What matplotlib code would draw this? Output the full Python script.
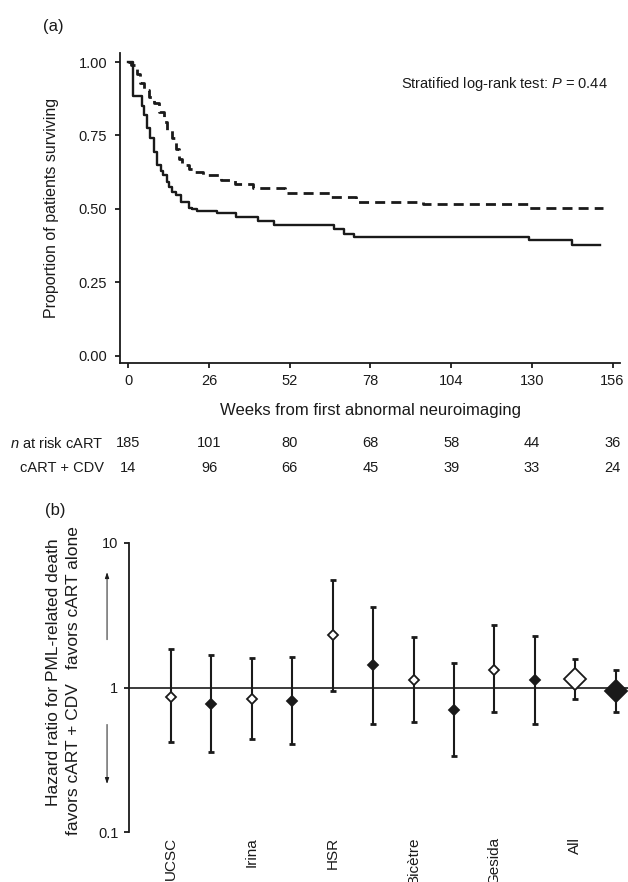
import matplotlib
matplotlib.use('Agg')
import matplotlib.pyplot as plt
from matplotlib.transforms import blended_transform_factory

plt.rcParams['font.family'] = ['Liberation Sans', 'DejaVu Sans']
plt.rcParams['mathtext.fontset'] = 'custom'
plt.rcParams['mathtext.rm'] = 'Liberation Sans'
plt.rcParams['mathtext.it'] = 'Liberation Sans:italic'

# (a) Kaplan-Meier curves
solid_weeks = [0, 1.6, 4.4, 5.0, 6.0, 7.1, 8.2, 9.3, 10.4, 11.1, 12.5, 13.0, 14.1, 15.2,
               16.8, 19.5, 20.6, 22.2, 28.5, 34.6, 41.7, 47.0, 66.3, 69.6, 72.8, 129.0,
               143.0, 152.0]
solid_surv = [1.00, 0.886, 0.85, 0.82, 0.774, 0.74, 0.695, 0.648, 0.63, 0.614, 0.591, 0.575,
              0.557, 0.546, 0.523, 0.503, 0.498, 0.494, 0.486, 0.473, 0.459, 0.446, 0.43,
              0.414, 0.403, 0.394, 0.378, 0.378]
dashed_weeks = [0, 1.0, 2.0, 2.8, 3.9, 5.0, 6.6, 8.2, 9.8, 11.4, 12.5, 14.1, 15.2, 16.2,
                17.3, 19.5, 21.5, 24.0, 30.0, 34.5, 40.0, 50.5, 65.0, 73.5, 95.0, 129.0, 153.0]
dashed_surv = [1.00, 0.99, 0.98, 0.96, 0.93, 0.905, 0.882, 0.86, 0.83, 0.797, 0.768, 0.74,
               0.705, 0.671, 0.648, 0.635, 0.625, 0.614, 0.597, 0.586, 0.571, 0.555, 0.54,
               0.524, 0.515, 0.503, 0.503]
week_ticks = [0, 26, 52, 78, 104, 130, 156]
surv_ticks = [0.0, 0.25, 0.5, 0.75, 1.0]
risk_cart = [185, 101, 80, 68, 58, 44, 36]
risk_cdv = [14, 96, 66, 45, 39, 33, 24]

# (b) hazard ratios with 95% CI
hr = [0.86, 0.766, 0.835, 0.804, 2.30, 1.42, 1.12, 0.704, 1.33, 1.12, 1.136, 0.943]
hr_lo = [0.42, 0.359, 0.437, 0.408, 0.953, 0.561, 0.575, 0.335, 0.675, 0.561, 0.835, 0.68]
hr_hi = [1.85, 1.67, 1.60, 1.63, 5.56, 3.63, 2.24, 1.47, 2.72, 2.29, 1.58, 1.33]
sites = ['UCSC', 'Irina', 'HSR', 'Bicètre', 'Gesida', 'All']

ink = '#1a1a1a'
W, H = 628, 882


def fx(px):
    return px / W


def fy(py):
    return 1 - py / H


fig = plt.figure(figsize=(W / 100, H / 100), dpi=100)

# ---- panel (a)
ax1 = fig.add_axes([fx(120), fy(363), fx(620) - fx(120), fy(53) - fy(363)])
ax1.step(solid_weeks, solid_surv, where='post', color=ink, lw=1.7)
ax1.step(dashed_weeks, dashed_surv, where='post', color=ink, lw=2.0, dashes=(3.6, 2.2))
ax1.set_xlim(-2.7, 158.4)
ax1.set_ylim(-0.025, 1.031)
ax1.set_xticks(week_ticks)
ax1.set_yticks(surv_ticks)
ax1.set_yticklabels(['%.2f' % v for v in surv_ticks])
for s in ['top', 'right']:
    ax1.spines[s].set_visible(False)
for s in ['left', 'bottom']:
    ax1.spines[s].set_linewidth(1.3)
    ax1.spines[s].set_color(ink)
ax1.tick_params(direction='out', length=3.6, width=1.3, color=ink, labelsize=10.5,
                labelcolor=ink)
ax1.tick_params(axis='x', pad=4.5)
ax1.tick_params(axis='y', pad=5.5)
ax1.text(154.5, 0.925, 'Stratified log-rank test: $P$ = 0.44', ha='right', va='center',
         fontsize=10.5, color=ink)

fig.text(fx(52), fy(208), 'Proportion of patients surviving', rotation=90,
         ha='center', va='center', fontsize=11.5, color=ink)
fig.text(fx(370), fy(410), 'Weeks from first abnormal neuroimaging', ha='center',
         va='center', fontsize=12, color=ink)
fig.text(fx(43), fy(27), '(a)', ha='left', va='center', fontsize=12, color=ink)

# number at risk table
tr = blended_transform_factory(ax1.transData, fig.transFigure)
fig.text(fx(104), fy(443), '$n$ at risk cART', ha='right', va='center', fontsize=10.5,
         color=ink)
fig.text(fx(104), fy(468), 'cART + CDV', ha='right', va='center', fontsize=10.5, color=ink)
for w, a, b in zip(week_ticks, risk_cart, risk_cdv):
    ax1.text(w, fy(443), str(a), transform=tr, ha='center', va='center', fontsize=10.5,
             color=ink)
    ax1.text(w, fy(468), str(b), transform=tr, ha='center', va='center', fontsize=10.5,
             color=ink)

# ---- panel (b)
ax2 = fig.add_axes([fx(129), fy(832), 1 - fx(129), fy(543) - fy(832)])
ax2.set_yscale('log')
ax2.set_ylim(0.1, 10)
ax2.set_xlim(-0.03, 12.3)
ax2.axhline(1, color=ink, lw=1.2, zorder=1)
for i in range(len(hr)):
    x = i + 1
    ax2.errorbar([x], [hr[i]], yerr=[[hr[i] - hr_lo[i]], [hr_hi[i] - hr[i]]], fmt='none',
                 ecolor=ink, elinewidth=1.5, capsize=2.3, capthick=2.0, zorder=2)
    big = i >= 10
    face = 'white' if i % 2 == 0 else ink
    ax2.plot([x], [hr[i]], marker='D', ms=11 if big else 5, mfc=face, mec=ink,
             mew=1.3, ls='none', zorder=3, clip_on=False)

ax2.set_xticks([1, 3, 5, 7, 9, 11])
ax2.set_xticklabels(sites, rotation=90, fontsize=11, color=ink)
ax2.set_yticks([0.1, 1, 10])
ax2.set_yticklabels(['0.1', '1', '10'])
ax2.yaxis.set_minor_locator(matplotlib.ticker.NullLocator())
for s in ['top', 'right', 'bottom']:
    ax2.spines[s].set_visible(False)
ax2.spines['left'].set_linewidth(1.3)
ax2.spines['left'].set_color(ink)
ax2.tick_params(axis='x', length=0, pad=3.5)
ax2.tick_params(axis='y', direction='out', length=3.6, width=1.3, color=ink,
                labelsize=10.5, labelcolor=ink, pad=4)

# direction arrows in the left margin
ax2.annotate('', xy=(-0.044, 6.56), xytext=(-0.044, 2.05),
             xycoords=('axes fraction', 'data'), annotation_clip=False,
             arrowprops=dict(arrowstyle='-|>,head_length=0.35,head_width=0.12',
                             lw=0.7, color=ink))
ax2.annotate('', xy=(-0.044, 0.206), xytext=(-0.044, 0.58),
             xycoords=('axes fraction', 'data'), annotation_clip=False,
             arrowprops=dict(arrowstyle='-|>,head_length=0.35,head_width=0.12',
                             lw=0.7, color=ink))

fig.text(fx(54), fy(672), 'Hazard ratio for PML-related death', rotation=90,
         ha='center', va='center', fontsize=12.5, color=ink)
fig.text(fx(73), fy(598), 'favors cART alone', rotation=90, ha='center', va='center',
         fontsize=12.5, color=ink)
fig.text(fx(73), fy(759), 'favors cART + CDV', rotation=90, ha='center', va='center',
         fontsize=12.5, color=ink)
fig.text(fx(45), fy(511), '(b)', ha='left', va='center', fontsize=12, color=ink)

fig.savefig('out.png', dpi=100)
